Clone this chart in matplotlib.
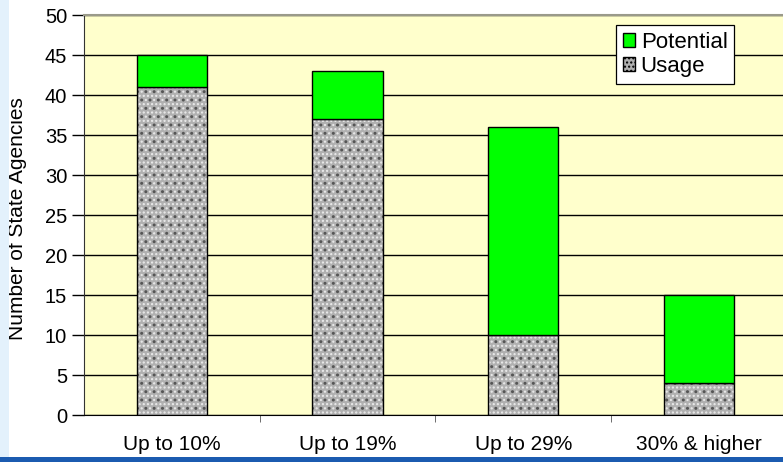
import matplotlib
matplotlib.use('Agg')
import matplotlib.pyplot as plt
from matplotlib.patches import Patch, Rectangle

plt.rcParams['font.family'] = ['Liberation Sans', 'DejaVu Sans']

categories = ['Up to 10%', 'Up to 19%', 'Up to 29%', '30% & higher']
usage = [41, 37, 10, 4]
potential = [4, 6, 26, 11]

fig = plt.figure(figsize=(7.83, 4.62), dpi=100)
fig.patch.set_facecolor('white')

# slide background strips
fig.patches.append(Rectangle((0, 0), 0.012, 1, transform=fig.transFigure,
                             facecolor='#e3f1fc', edgecolor='none', zorder=0))
fig.patches.append(Rectangle((0, 0), 1, 0.011, transform=fig.transFigure,
                             facecolor='#1b5bb0', edgecolor='none', zorder=0))

ax = fig.add_axes([0.107, 0.1017, 0.898, 0.8658])
ax.set_facecolor('#ffffcc')

x = range(len(categories))
width = 0.4

# speckled usage fill: gray base with light and dark dot layers
ax.bar(x, usage, width, color='#b0b0b0', edgecolor='#ececec', hatch='....',
       linewidth=0, zorder=3)
ax.bar(x, usage, width, color='none', edgecolor='#555555', hatch='..',
       linewidth=0, zorder=3)
ax.bar(x, usage, width, color='none', edgecolor='black', linewidth=1.0, zorder=4)
ax.bar(x, potential, width, bottom=usage, color='#00ff00', edgecolor='black',
       linewidth=1.0, zorder=4)

ax.set_xlim(-0.5, 3.5)
ax.set_ylim(0, 50)
ax.set_yticks(range(0, 51, 5))
ax.yaxis.grid(True, color='black', linewidth=1.0, zorder=1)
ax.set_axisbelow(True)

ax.set_xticks(list(x))
ax.set_xticklabels(categories, fontsize=15)
ax.set_xticks([0.5, 1.5, 2.5], minor=True)
ax.tick_params(axis='x', which='major', length=0, pad=14.5)
ax.tick_params(axis='x', which='minor', length=5, direction='out', color='#555555')
ax.tick_params(axis='y', length=9, width=1.0, labelsize=14.5, pad=3)

ax.spines['right'].set_visible(False)
ax.spines['top'].set_color('#9a9a8a')
ax.spines['top'].set_linewidth(1.5)
ax.spines['left'].set_color('#333333')
ax.spines['bottom'].set_color('black')

ax.set_ylabel('Number of State Agencies', fontsize=15)
ax.yaxis.set_label_coords(-0.081, 0.49)

handles = [Patch(facecolor='#00ff00', edgecolor='black', label='Potential'),
           Patch(facecolor='#b0b0b0', edgecolor='black', hatch='....',
                 label='Usage')]
leg = ax.legend(handles=handles, loc='upper right', bbox_to_anchor=(0.925, 0.975),
                fontsize=16, frameon=True, fancybox=False, framealpha=1,
                edgecolor='black', handlelength=0.55, handleheight=0.55,
                handletextpad=0.25, borderpad=0.3, labelspacing=0.15,
                borderaxespad=0)
leg.get_frame().set_linewidth(0.9)

fig.savefig('out.png', dpi=100, facecolor=fig.get_facecolor())
